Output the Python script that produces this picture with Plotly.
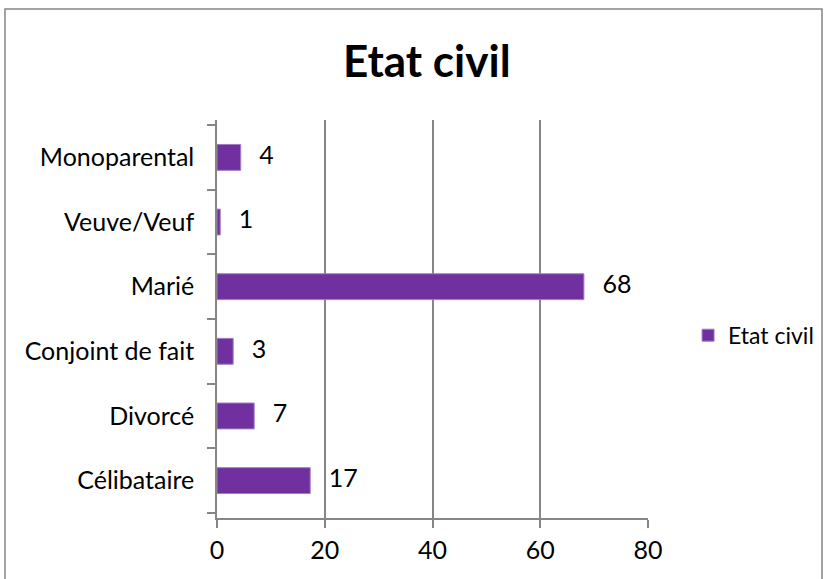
import plotly.graph_objects as go

# data, bottom to top (plotly puts the first category at the bottom)
categories = ["Célibataire", "Divorcé", "Conjoint de fait", "Marié", "Veuve/Veuf", "Monoparental"]
values = [17.3, 6.9, 3.0, 68.1, 0.6, 4.4]
labels = ["17", "7", "3", "68", "1", "4"]
x_ticks = [0, 20, 40, 60, 80]

BAR = '#7030A0'
GRID = '#868686'
FONT = 'Lato'

fig = go.Figure()

fig.add_trace(go.Bar(
    y=categories,
    x=values,
    orientation='h',
    name='Etat civil',
    width=0.4,
    marker=dict(color=BAR, line=dict(color='#A07CC5', width=1)),
    hoverinfo='x+y'
))

# data labels to the right of the bars
fig.add_trace(go.Scatter(
    y=categories,
    x=values,
    mode='markers+text',
    text=labels,
    textposition='middle right',
    textfont=dict(family=FONT, size=25, color='black'),
    marker=dict(size=28, color='rgba(0,0,0,0)'),
    showlegend=False,
    hoverinfo='skip',
    cliponaxis=False
))

fig.update_layout(
    width=832,
    height=579,
    title=dict(text='<b>Etat civil</b>', x=0.513, xanchor='center',
               y=0.893, yanchor='middle',
               font=dict(family=FONT, size=44, color='black')),
    plot_bgcolor='white',
    paper_bgcolor='white',
    font=dict(family=FONT, size=25, color='black'),
    margin=dict(l=217, r=184, t=120, b=61),
    bargap=0.6,
    xaxis=dict(range=[0, 80], tickvals=x_ticks, showgrid=True, gridcolor=GRID,
               gridwidth=1.5, zeroline=False, showline=True, linecolor=GRID,
               linewidth=1.5, ticks='outside', ticklen=8, tickcolor=GRID,
               tickwidth=1.5, ticklabelstandoff=1, automargin=False,
               tickfont=dict(family=FONT, size=25, color='black')),
    yaxis=dict(type='category', categoryorder='array', categoryarray=categories,
               tickson='boundaries', showgrid=False, showline=True, linecolor=GRID,
               linewidth=1.5, ticks='outside', ticklen=8, tickcolor=GRID,
               tickwidth=1.5, ticklabelstandoff=16, automargin=False,
               tickfont=dict(family=FONT, size=25, color='black')),
    legend=dict(xref='container', yref='container', x=0.827, xanchor='left',
                y=0.421, yanchor='middle',
                font=dict(family=FONT, size=23, color='black'),
                bgcolor='rgba(0,0,0,0)'),
    shapes=[dict(type='rect', xref='paper', yref='paper',
                 x0=-0.4919, x1=1.4037, y0=-0.17, y1=1.2789,
                 line=dict(color=GRID, width=1.5), layer='below')]
)

# drop the browser's default body margin so the figure sits at the page corner
fig.write_html("out.html", config={'displayModeBar': False},
               post_script="document.body.style.margin='0';")
